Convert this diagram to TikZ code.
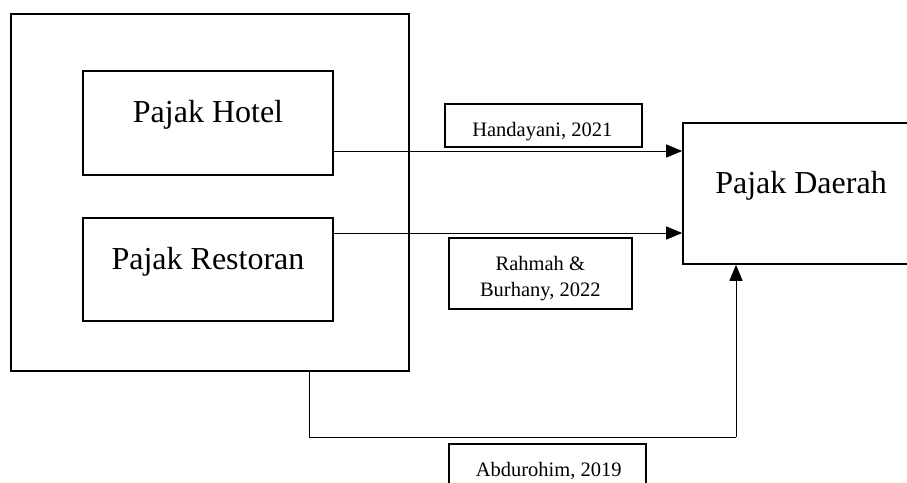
\documentclass[tikz,border=0pt]{standalone}
\usepackage{fontspec}
\setmainfont{Liberation Serif}
\usetikzlibrary{arrows.meta}
\begin{document}
\begin{tikzpicture}[x=1pt,y=-1pt,
  boxshape/.style={draw, line width=1.6pt, rectangle, inner sep=0pt},
  outerbox/.style={draw, line width=1.2pt, rectangle, inner sep=0pt},
  bigtext/.style={anchor=base, inner sep=0pt, font=\fontsize{32}{38}\selectfont},
  smalltext/.style={anchor=base, inner sep=0pt, font=\fontsize{20.5}{25}\selectfont},
  conn/.style={line width=1pt, -{Triangle[length=16pt,width=13pt]}},
  plainconn/.style={line width=1pt}]
\useasboundingbox (0,0) rectangle (907,482);
\clip (0,0) rectangle (907,482);
\fill[white] (0,0) rectangle (907,482);
% outer box
\node[outerbox, minimum width=398pt, minimum height=357pt] (outer) at (210,192.5) {};
% inner boxes
\node[boxshape, minimum width=250pt, minimum height=104pt] (hotel) at (208,123) {};
\node[bigtext] (hoteltxt) at (208,122.7) {Pajak Hotel};
\node[boxshape, minimum width=250pt, minimum height=103pt] (resto) at (208,269.5) {};
\node[bigtext] (restotxt) at (208,269.3) {Pajak Restoran};
% target box (extends beyond right edge)
\node[boxshape, minimum width=240pt, minimum height=141pt] (daerah) at (803,193.5) {};
\node[bigtext] (daerahtxt) at (801,193.3) {Pajak Daerah};
% citation boxes
\node[boxshape, minimum width=197pt, minimum height=43pt] (handa) at (543.5,125.5) {};
\node[smalltext] (handatxt) at (542.3,136) {Handayani, 2021};
\node[boxshape, minimum width=183pt, minimum height=71pt] (rahmah) at (540.5,273.5) {};
\node[smalltext] (rahmah1) at (540.3,270.7) {Rahmah \&};
\node[smalltext] (rahmah2) at (540.3,296) {Burhany, 2022};
\node[boxshape, minimum width=197pt, minimum height=52pt] (abdu) at (547.5,470) {};
\node[smalltext] (abdutxt) at (548.7,476.7) {Abdurohim, 2019};
% connectors
\coordinate (h1) at (hotel.east |- 0,151);
\coordinate (h2) at (daerah.west |- 0,151);
\coordinate (r1) at (resto.east |- 0,233);
\coordinate (r2) at (daerah.west |- 0,233);
\draw[conn] (h1) -- (h2);
\draw[conn] (r1) -- (r2);
\coordinate (b1) at (309,0 |- outer.south);
\coordinate (b2) at (309,437);
\coordinate (b3) at (736,437);
\coordinate (b4) at (736,0 |- daerah.south);
\draw[plainconn] (b1) -- (b2) -- (b3);
\draw[conn] (b3) -- (b4);
\end{tikzpicture}
\end{document}
